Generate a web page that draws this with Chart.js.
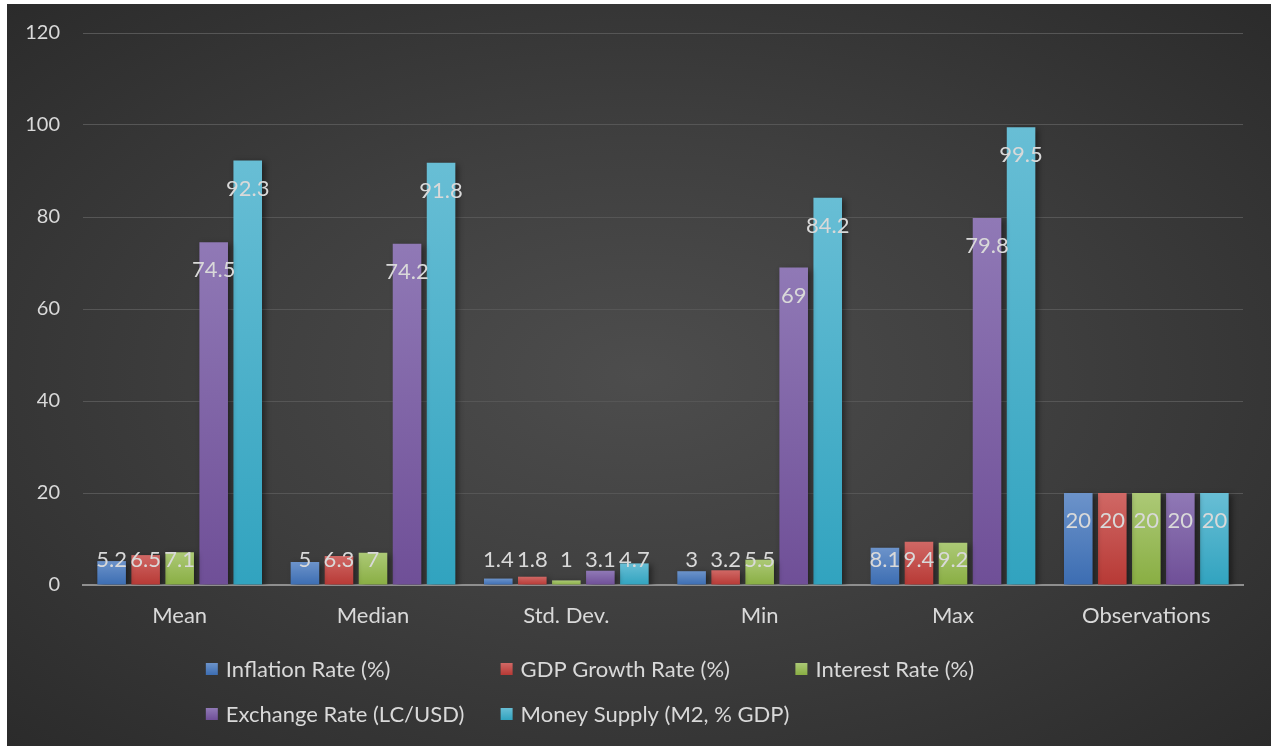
<!DOCTYPE html>
<html>
<head>
<meta charset="utf-8">
<title>Descriptive statistics</title>
<script src="https://cdn.jsdelivr.net/npm/chart.js@4.4.1/dist/chart.umd.min.js"></script>
<style>
    html, body {
        margin: 0;
        padding: 0;
        background: #ffffff;
        overflow: hidden;
    }
    #wrap {
        position: absolute;
        left: 7px;
        top: 4px;
        width: 1264px;
        height: 742px;
        background: radial-gradient(ellipse at 50% 50%, #4d4d4d 0%, #3f3f3f 45%, #2b2b2b 100%);
    }
</style>
</head>
<body>
<div id="wrap"><canvas id="statsChart" width="1264" height="742"></canvas></div>
<script>
// categories on the x axis
const categories = ['Mean', 'Median', 'Std. Dev.', 'Min', 'Max', 'Observations'];

// series values, one per category
const inflation = [5.2, 5, 1.4, 3, 8.1, 20];
const gdpGrowth = [6.5, 6.3, 1.8, 3.2, 9.4, 20];
const interest = [7.1, 7, 1, 5.5, 9.2, 20];
const exchange = [74.5, 74.2, 3.1, 69, 79.8, 20];
const moneySupply = [92.3, 91.8, 4.7, 84.2, 99.5, 20];

const seriesNames = ['Inflation Rate (%)', 'GDP Growth Rate (%)', 'Interest Rate (%)', 'Exchange Rate (LC/USD)', 'Money Supply (M2, % GDP)'];

// y axis ticks
const yMin = 0;
const yMax = 120;
const yStep = 20;

document.addEventListener('DOMContentLoaded', function() {
    const ctx = document.getElementById('statsChart').getContext('2d');
    const FONT = 'Lato, "Open Sans", sans-serif';
    const TEXT = '#d9d9d9';

    // light top -> dark bottom for each bar
    const palette = [
        ['#6c93ca', '#3c6db2'],
        ['#d06865', '#b73935'],
        ['#acc976', '#89ae43'],
        ['#9079b6', '#6f4f97'],
        ['#68bed5', '#31a3bf']
    ];

    function barGradient(index) {
        return function(context) {
            const chart = context.chart;
            if (!chart.chartArea || context.type !== 'data') {
                return palette[index][1];
            }
            const yScale = chart.scales.y;
            const top = yScale.getPixelForValue(context.raw);
            const base = yScale.getPixelForValue(0);
            const g = chart.ctx.createLinearGradient(0, top, 0, base);
            g.addColorStop(0, palette[index][0]);
            g.addColorStop(1, palette[index][1]);
            return g;
        };
    }

    const values = [inflation, gdpGrowth, interest, exchange, moneySupply];
    const datasets = values.map(function(data, i) {
        return {
            label: seriesNames[i],
            data: data,
            backgroundColor: barGradient(i),
            borderWidth: 0,
            categoryPercentage: 0.88,
            barPercentage: 0.84
        };
    });

    // soft shadow under the bars
    const shadowPlugin = {
        id: 'barShadow',
        beforeDatasetsDraw: function(chart) {
            const c = chart.ctx;
            c.save();
            c.shadowColor = 'rgba(0, 0, 0, 0.45)';
            c.shadowBlur = 6;
            c.shadowOffsetX = 3;
            c.shadowOffsetY = 2;
        },
        afterDatasetsDraw: function(chart) {
            chart.ctx.restore();
        }
    };

    // value labels at the inside end of each bar
    const labelPlugin = {
        id: 'valueLabels',
        afterDatasetsDraw: function(chart) {
            const c = chart.ctx;
            c.save();
            c.font = '22px ' + FONT;
            c.fillStyle = TEXT;
            c.textAlign = 'center';
            c.textBaseline = 'middle';
            chart.data.datasets.forEach(function(ds, i) {
                const meta = chart.getDatasetMeta(i);
                meta.data.forEach(function(bar, j) {
                    const y = Math.min(bar.y + 28, bar.base - 25);
                    c.fillText(String(ds.data[j]), bar.x, y);
                });
            });
            c.restore();
        }
    };

    // legend laid out in fixed columns, two rows
    const legendPlugin = {
        id: 'gridLegend',
        afterDraw: function(chart) {
            const c = chart.ctx;
            c.save();
            c.font = '22px ' + FONT;
            c.textBaseline = 'middle';
            const box = 12;
            const gap = 8;
            let widest = 0;
            chart.data.datasets.forEach(function(ds) {
                widest = Math.max(widest, box + gap + c.measureText(ds.label).width);
            });
            const colW = widest + 6;
            const cols = 3;
            const startX = chart.width / 2 - (cols * colW - 6) / 2 + 6;
            const rowY = [665, 710];
            chart.data.datasets.forEach(function(ds, i) {
                const x = startX + (i % cols) * colW;
                const y = rowY[Math.floor(i / cols)];
                const g = c.createLinearGradient(0, y - box / 2, 0, y + box / 2);
                g.addColorStop(0, palette[i][0]);
                g.addColorStop(1, palette[i][1]);
                c.fillStyle = g;
                c.fillRect(x, y - box / 2, box, box);
                c.fillStyle = TEXT;
                c.fillText(ds.label, x + box + gap, y + 1);
            });
            c.restore();
        }
    };

    const statsChart = new Chart(ctx, {
        type: 'bar',
        data: {
            labels: categories,
            datasets: datasets
        },
        options: {
            responsive: false,
            animation: false,
            layout: {
                padding: { top: 29, right: 28, bottom: 116, left: 0 }
            },
            plugins: {
                legend: { display: false },
                tooltip: { enabled: false }
            },
            scales: {
                x: {
                    grid: { display: false, drawTicks: false },
                    border: { display: true, color: '#8f8f8f', width: 2 },
                    ticks: {
                        color: TEXT,
                        font: { family: FONT, size: 22 },
                        padding: 18
                    },
                    afterFit: function(scale) {
                        scale.height = 45;
                    }
                },
                y: {
                    min: yMin,
                    max: yMax,
                    grid: { color: '#565656', lineWidth: 1, drawTicks: false },
                    border: { display: false },
                    ticks: {
                        stepSize: yStep,
                        color: TEXT,
                        font: { family: FONT, size: 20 },
                        padding: 23
                    },
                    afterFit: function(scale) {
                        scale.width = 76;
                        // keep the plot top where the padding puts it
                        scale.paddingTop = 0;
                        scale.paddingBottom = 0;
                    }
                }
            }
        },
        plugins: [shadowPlugin, labelPlugin, legendPlugin]
    });
});
</script>
</body>
</html>
